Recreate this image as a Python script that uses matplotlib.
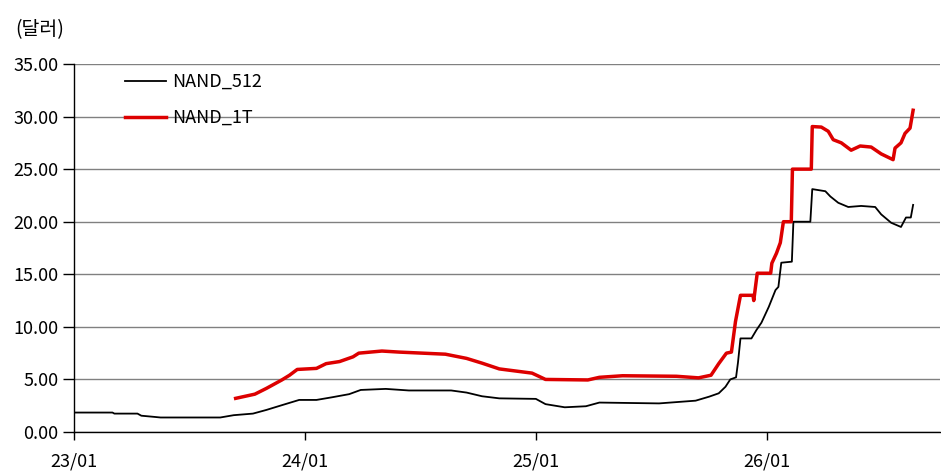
import matplotlib
matplotlib.use("Agg")
import matplotlib.pyplot as plt

plt.rcParams['font.family'] = ['Noto Sans CJK KR', 'DejaVu Sans']

# x = months since 2023-01
nand512_m = [0, 2.0, 2.1, 3.3, 3.5, 4.1, 4.5, 7.6, 8.3, 9.3, 10.0, 10.8, 11.7, 12.6,
             13.4, 14.3, 14.9, 16.2, 17.4, 19.6, 20.4, 21.2, 22.1, 24.0, 24.5, 25.5,
             26.6, 27.3, 30.4, 32.3, 33.0, 33.5, 33.85, 34.1, 34.4, 34.5, 34.63, 35.2,
             35.46, 35.72, 36.1, 36.45, 36.6, 36.75, 37.3, 37.38, 38.26, 38.36, 39.04,
             39.3, 39.71, 40.23, 40.9, 41.63, 41.94, 42.46, 42.97, 43.23, 43.48, 43.6]
nand512_v = [1.85, 1.85, 1.75, 1.75, 1.55, 1.45, 1.38, 1.38, 1.6, 1.75, 2.1, 2.55, 3.05, 3.05,
             3.3, 3.6, 4.0, 4.1, 3.95, 3.95, 3.75, 3.4, 3.2, 3.15, 2.65, 2.35,
             2.45, 2.8, 2.72, 2.98, 3.36, 3.68, 4.3, 5.0, 5.2, 6.6, 8.9, 8.9,
             9.7, 10.4, 11.9, 13.5, 13.8, 16.1, 16.2, 20.0, 20.0, 23.1, 22.9,
             22.4, 21.8, 21.4, 21.5, 21.4, 20.7, 19.9, 19.5, 20.4, 20.4, 21.6]

nand1t_m = [8.4, 9.4, 10.0, 10.8, 11.2, 11.6, 12.6, 13.1, 13.8, 14.5, 14.8, 16.0, 16.9,
            19.3, 20.4, 21.2, 22.1, 23.8, 24.5, 26.7, 27.3, 28.5, 31.3, 32.45, 33.1,
            33.5, 33.9, 34.16, 34.37, 34.63, 35.28, 35.32, 35.5, 36.2, 36.26, 36.5, 36.7,
            36.86, 37.27, 37.33, 38.31, 38.36, 38.83, 39.19, 39.45, 39.87, 40.38, 40.85,
            41.42, 41.94, 42.56, 42.66, 42.97, 43.18, 43.44, 43.6]
nand1t_v = [3.2, 3.6, 4.15, 4.95, 5.4, 5.95, 6.05, 6.5, 6.7, 7.15, 7.5, 7.7, 7.6,
            7.4, 7.0, 6.55, 6.0, 5.6, 5.0, 4.95, 5.2, 5.35, 5.3, 5.15, 5.4,
            6.5, 7.5, 7.6, 10.5, 13.0, 13.0, 12.5, 15.1, 15.1, 16.05, 17.0, 18.0,
            20.0, 20.0, 25.0, 25.0, 29.05, 29.0, 28.6, 27.8, 27.5, 26.8, 27.2,
            27.1, 26.45, 25.9, 27.0, 27.5, 28.4, 28.9, 30.6]

tick_pos = [0, 12, 24, 36]
tick_labels = ["23/01", "24/01", "25/01", "26/01"]

fig = plt.figure(figsize=(9.41, 4.74), dpi=100)
ax = fig.add_axes([0.0786, 0.0886, 0.9204, 0.7764])

ax.plot(nand512_m, nand512_v, color="black", lw=1.3, label="NAND_512")
ax.plot(nand1t_m, nand1t_v, color="#DD0000", lw=2.5, label="NAND_1T")

ax.set_xlim(0, 45)
ax.set_ylim(0, 35)
ax.set_yticks(range(0, 36, 5))
ax.set_yticklabels([f"{v:.2f}" for v in range(0, 36, 5)], fontsize=13)
ax.set_xticks(tick_pos)
ax.set_xticklabels(tick_labels, fontsize=13)
ax.tick_params(axis="y", length=8, width=1, pad=3)
ax.tick_params(axis="x", length=6, width=1, pad=9)

ax.grid(axis="y", color="#808080", lw=1)
ax.set_axisbelow(True)
for s in ["top", "right"]:
    ax.spines[s].set_visible(False)
ax.spines["left"].set_linewidth(1)
ax.spines["bottom"].set_linewidth(1)

ax.legend(loc="upper left", bbox_to_anchor=(0.04, 1.02), frameon=False, fontsize=13,
          handlelength=2.3, labelspacing=1.0, handletextpad=0.3)

fig.text(0.016, 0.937, "(달러)", fontsize=14, ha="left", va="center")

fig.savefig("out.png", dpi=100)
